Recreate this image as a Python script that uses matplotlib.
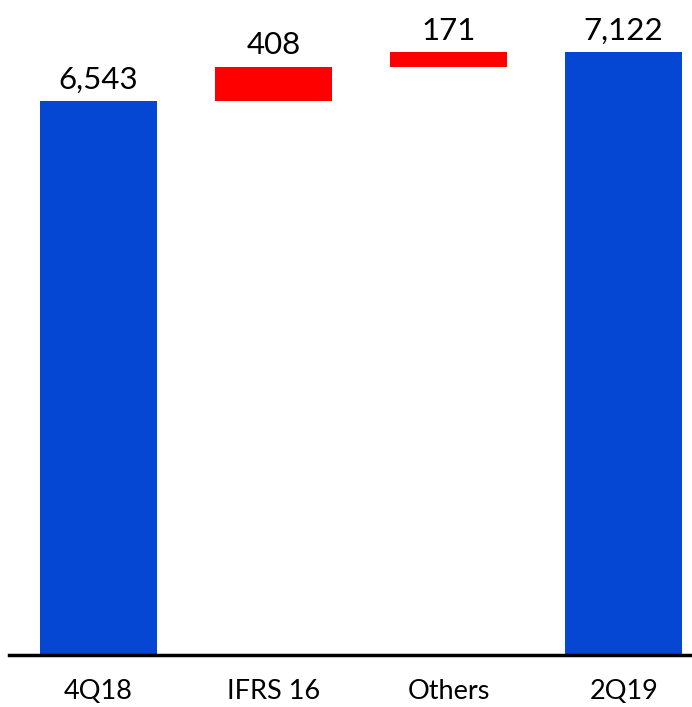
import matplotlib.pyplot as plt

# Waterfall: opening balance, changes, closing balance
categories = ['4Q18', 'IFRS 16', 'Others', '2Q19']
values = [6543, 408, 171, 7122]
kinds = ['total', 'delta', 'delta', 'total']

blue = '#0546D2'
red = '#FF0000'

plt.rcParams['font.family'] = ['Lato', 'DejaVu Sans']

fig = plt.figure(figsize=(6.92, 7.07), dpi=100)
ax = fig.add_axes([9 / 692, 52 / 707, 683 / 692, 655 / 707])

running = 0
for i, (cat, val, kind) in enumerate(zip(categories, values, kinds)):
    if kind == 'total':
        bottom = 0
        running = val
        color = blue
    else:
        bottom = running
        running += val
        color = red
    ax.bar(i, val, bottom=bottom, width=0.67, color=color)
    ax.text(i, bottom + val + 90, f'{val:,}', ha='center', va='bottom',
            fontsize=22.5, color='black')

ax.set_xlim(-0.511, 3.39)
ax.set_ylim(0, 7740)
ax.set_xticks(range(len(categories)))
ax.set_xticklabels(categories, fontsize=19.5)
ax.tick_params(axis='x', length=0, pad=17)
ax.set_yticks([])
for side in ['top', 'right', 'left']:
    ax.spines[side].set_visible(False)
ax.spines['bottom'].set_linewidth(2.5)
ax.spines['bottom'].set_color('black')

fig.savefig('out.png', dpi=100)
